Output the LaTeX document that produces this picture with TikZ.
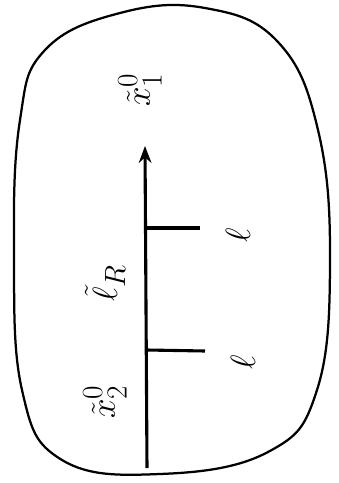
\documentclass[tikz,border=0pt]{standalone}
\usepackage{amsmath}
\usetikzlibrary{arrows.meta}
\begin{document}
\begin{tikzpicture}[>=stealth, x=0.025cm, y=-0.025cm,
    lbl/.style={rotate=90, font=\fontsize{30}{32}\selectfont}]
    \useasboundingbox (0,0) rectangle (339,483);
    % 外轮廓
    \draw[line width=1.6pt] plot[smooth cycle, tension=0.7] coordinates {
        (45,50) (120,13) (205,8) (278,42) (318,130) (330,260)
        (317,390) (268,452) (160,474) (62,460) (22,390)
        (14,250) (20,120)};
    % 轴
    \coordinate (bot) at (147,468);
    \coordinate (top) at (145,146);
    \coordinate (a1) at (146,228);
    \coordinate (a2) at (147,350);
    \coordinate (b1) at (200,228);
    \coordinate (b2) at (205,351);
    \draw[-{Stealth[length=12pt,width=9pt]}, line width=2.2pt] (bot) -- (top);
    \draw[line width=2.2pt] (a1) -- (b1);
    \draw[line width=2.2pt] (a2) -- (b2);
    % 标注
    \node[lbl] (x1) at (140,90) {$\tilde{x}_1^0$};
    \node[lbl] (lr) at (105,283) {$\tilde{\ell}_R$};
    \node[lbl] (l1) at (238,235) {$\ell$};
    \node[lbl] (l2) at (243,362) {$\ell$};
    \node[lbl] (x2) at (105,402) {$\tilde{x}_2^0$};
\end{tikzpicture}
\end{document}
